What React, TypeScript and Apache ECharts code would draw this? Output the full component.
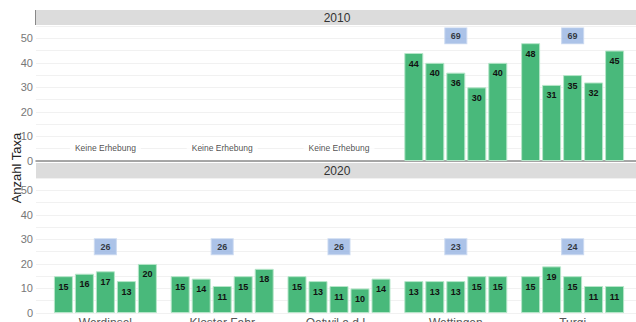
import React, { useEffect, useRef } from "react";
import * as echarts from "echarts";

const sites = ["Werdinsel", "Kloster Fahr", "Oetwil a.d.L.", "Wettingen", "Turgi"];
const years = ["2010", "2020"];
const values2010: (number[] | null)[] = [
  null,
  null,
  null,
  [44, 40, 36, 30, 40],
  [48, 31, 35, 32, 45],
];
const values2020: (number[] | null)[] = [
  [15, 16, 17, 13, 20],
  [15, 14, 11, 15, 18],
  [15, 13, 11, 10, 14],
  [13, 13, 13, 15, 15],
  [15, 19, 15, 11, 11],
];
const totals2010: (number | null)[] = [null, null, null, 69, 69];
const totals2020: (number | null)[] = [26, 26, 26, 23, 24];
const yTicks = [0, 10, 20, 30, 40, 50];
const noSurveyText = "Keine Erhebung";
const yTitle = "Anzahl Taxa";

const FONT = "Liberation Sans, Arial, sans-serif";
const GREEN = "#49b97b";
const BLUE = "#97b4e2";

export default function App() {
  const ref = useRef<HTMLDivElement>(null);
  useEffect(() => {
    if (!ref.current) return;
    const chart = echarts.init(ref.current, null, { renderer: "svg" });
    const panels = [
      { top: 26, values: values2010, totals: totals2010, boxLevel: 51 },
      { top: 178, values: values2020, totals: totals2020, boxLevel: 27 },
    ];
    const H = 135;
    const grid: any[] = [];
    const xAxis: any[] = [];
    const yAxis: any[] = [];
    const series: any[] = [];
    panels.forEach((p, pi) => {
      grid.push({ left: 36, width: 600, top: p.top, height: H, outerBoundsMode: "none", containLabel: false });
      grid.push({ left: 47, width: 584, top: p.top, height: H, outerBoundsMode: "none", containLabel: false });
      const bg = pi * 2;
      const bar = pi * 2 + 1;
      xAxis.push({
        gridIndex: bg,
        type: "category",
        data: sites,
        axisLine: { show: pi === 0, lineStyle: { color: "#8a8a8a", width: 1.5 } },
        axisTick: { show: false },
        axisLabel: { show: false },
        splitLine: { show: false },
      });
      xAxis.push({
        gridIndex: bar,
        type: "category",
        data: sites,
        axisLine: { show: false },
        axisTick: { show: false },
        axisLabel: {
          show: pi === 1,
          color: "#555",
          fontSize: 12,
          fontFamily: FONT,
          margin: 4,
        },
      });
      yAxis.push({
        gridIndex: bg,
        type: "value",
        min: 0,
        max: 55,
        interval: 5,
        axisLine: { show: false },
        axisTick: { show: false },
        axisLabel: {
          color: "#777",
          fontSize: 11,
          fontFamily: FONT,
          margin: 3,
          formatter: (v: number) => (yTicks.includes(v) ? String(v) : ""),
        },
        splitLine: { show: true, lineStyle: { color: "#f1f1f1", width: 1 } },
      });
      yAxis.push({
        gridIndex: bar,
        type: "value",
        min: 0,
        max: 55,
        show: false,
        splitLine: { show: false },
      });
      for (let i = 0; i < 5; i++) {
        series.push({
          type: "bar",
          xAxisIndex: bar,
          yAxisIndex: bar,
          barWidth: 19,
          barGap: "10.5%",
          data: sites.map((_, s) => (p.values[s] ? (p.values[s] as number[])[i] : null)),
          itemStyle: { color: GREEN, borderColor: "#b6e6c9", borderWidth: 1 },
          label: {
            show: true,
            position: "insideTop",
            distance: 6,
            color: "#111",
            fontSize: 9,
            fontWeight: "bold",
            fontFamily: FONT,
          },
          silent: true,
        });
      }
      series.push({
        type: "scatter",
        xAxisIndex: bar,
        yAxisIndex: bar,
        symbol: "rect",
        symbolSize: [22, 16],
        itemStyle: { color: BLUE, borderColor: "#c9d8f0", borderWidth: 1 },
        data: sites
          .map((_, s) => (p.totals[s] != null ? { value: [s, p.boxLevel], total: p.totals[s] } : null))
          .filter((d) => d),
        label: {
          show: true,
          position: "inside",
          color: "#111",
          fontSize: 9,
          fontWeight: "bold",
          fontFamily: FONT,
          formatter: (prm: any) => String(prm.data.total),
        },
        z: 5,
      });
      if (pi === 0) {
        series.push({
          type: "scatter",
          xAxisIndex: bar,
          yAxisIndex: bar,
          symbolSize: 1,
          itemStyle: { color: "rgba(0,0,0,0)" },
          data: sites.map((_, s) => (p.values[s] == null ? [s, 5.2] : null)).filter((d) => d),
          label: {
            show: true,
            position: "inside",
            formatter: noSurveyText,
            color: "#222",
            fontSize: 8.5,
            fontFamily: FONT,
            backgroundColor: "#fff",
            padding: [1, 5],
          },
        });
      }
    });
    const headerTops = [10, 163];
    const graphic: any[] = [];
    years.forEach((y, i) => {
      graphic.push({
        type: "rect",
        shape: { x: 36, y: headerTops[i], width: 600, height: 15 },
        style: { fill: "#dcdcdc" },
        silent: true,
      });
      graphic.push({
        type: "text",
        x: 337,
        y: headerTops[i] + 7.5,
        style: {
          text: y,
          fill: "#333",
          fontSize: 12,
          fontFamily: FONT,
          align: "center",
          verticalAlign: "middle",
        },
      });
    });
    graphic.push({
      type: "line",
      shape: { x1: 35.5, y1: 10, x2: 35.5, y2: 25 },
      style: { stroke: "#888", lineWidth: 1 },
    });
    graphic.push({
      type: "text",
      x: 16,
      y: 168,
      rotation: Math.PI / 2,
      style: {
        text: yTitle,
        fill: "#222",
        fontSize: 13,
        fontFamily: FONT,
        align: "center",
        verticalAlign: "middle",
      },
    });
    chart.setOption({
      animation: false,
      backgroundColor: "#fff",
      grid,
      xAxis,
      yAxis,
      series,
      graphic,
    });
    return () => chart.dispose();
  }, []);
  return (
    <div
      ref={ref}
      style={{ position: "absolute", left: 0, top: 0, width: 636, height: 322 }}
    />
  );
}
